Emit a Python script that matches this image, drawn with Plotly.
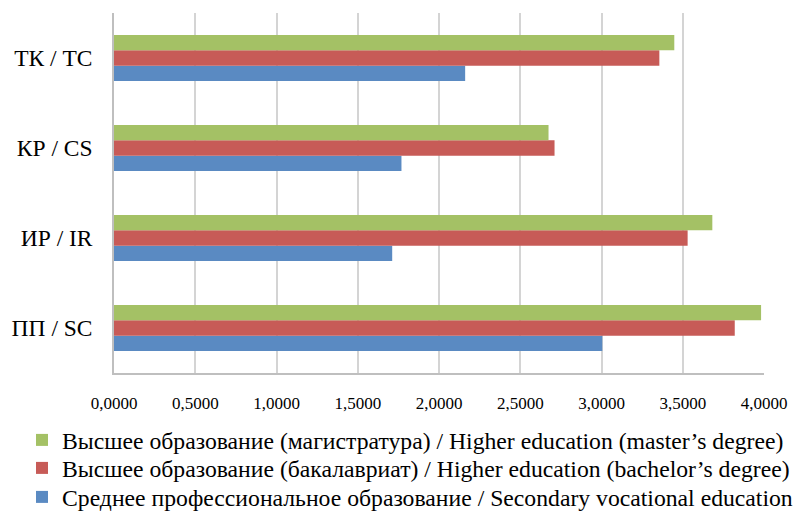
import plotly.graph_objects as go

categories = ["ПП / SC", "ИР / IR", "КР / CS", "ТК / TC"]

series_names = [
    "Среднее профессиональное образование / Secondary vocational education",
    "Высшее образование (бакалавриат) / Higher education (bachelor’s degree)",
    "Высшее образование (магистратура) / Higher education (master’s degree)",
]
secondary = [3.005, 1.712, 1.769, 2.161]
bachelor = [3.820, 3.530, 2.711, 3.356]
master = [3.982, 3.682, 2.674, 3.448]
colors = ["#5A8AC2", "#C75B57", "#A4C165"]

x_ticks = [0, 0.5, 1.0, 1.5, 2.0, 2.5, 3.0, 3.5, 4.0]

# one legend box per series so each row sits at its own height
legend_ids = ["legend4", "legend3", "legend2"]
legend_rows_px = [497, 468, 440]

serif = "Liberation Serif"

fig = go.Figure()
for name, vals, col, lg in zip(series_names, [secondary, bachelor, master], colors, legend_ids):
    fig.add_trace(go.Bar(
        y=categories, x=vals, name=name, orientation="h",
        marker=dict(color=col, line=dict(width=0)),
        legend=lg,
    ))

legend_layout = {}
for lg, row in zip(legend_ids, legend_rows_px):
    legend_layout[lg] = dict(
        xref="container", x=22 / 800, xanchor="left",
        yref="container", y=1 - row / 512, yanchor="middle",
        font=dict(size=23.7, family=serif, color="#000000"),
        bgcolor="rgba(0,0,0,0)", itemwidth=30,
    )

fig.update_layout(
    width=800, height=512,
    barmode="group", bargap=0.49, bargroupgap=0,
    separators=", ",
    paper_bgcolor="white", plot_bgcolor="white",
    margin=dict(l=114, r=36, t=13, b=139, autoexpand=False),
    font=dict(family=serif, color="#000000"),
    xaxis=dict(
        range=[0, 4], tickvals=x_ticks, tickformat=".4f",
        showgrid=True, gridcolor="#D4D4D4", gridwidth=1.5,
        showline=True, linecolor="#BFBFBF", linewidth=1.5,
        zeroline=False, ticks="", ticklabelstandoff=14,
        tickfont=dict(size=17, family=serif, color="#000000"),
        fixedrange=True,
    ),
    yaxis=dict(
        categoryorder="array", categoryarray=categories,
        showline=True, linecolor="#BFBFBF", linewidth=1.5,
        showgrid=False, ticks="", ticklabelstandoff=15,
        tickfont=dict(size=23.5, family=serif, color="#000000"),
    ),
    **legend_layout,
)

fig.write_html("out.html")
